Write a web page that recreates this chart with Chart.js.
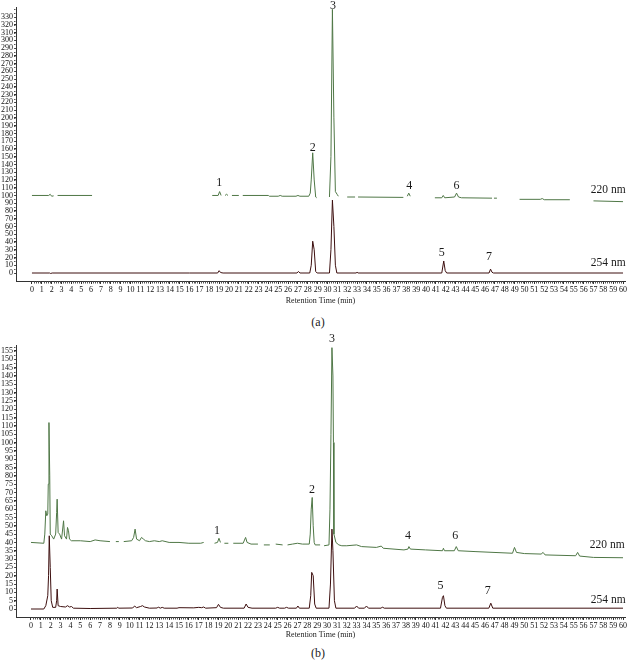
<!DOCTYPE html>
<html><head><meta charset="utf-8">
<script src="https://cdn.jsdelivr.net/npm/chart.js@4"></script>
<style>
html,body{margin:0;padding:0;background:#fff;}
#wrap{position:relative;width:634px;height:661px;overflow:hidden;background:#fff;}
.cap{position:absolute;font-family:"Liberation Serif",serif;font-size:12px;color:#222;transform:translate(-50%,-50%);white-space:nowrap;}
</style></head><body>
<div id="wrap">
<canvas id="ca" width="634" height="310" style="position:absolute;left:0;top:0"></canvas>
<canvas id="cb" width="634" height="314" style="position:absolute;left:0;top:330px"></canvas>
<div class="cap" style="left:318px;top:322px">(a)</div>
<div class="cap" style="left:318px;top:653px">(b)</div>
</div>
<script>
// ---------- DATA ----------
const xTicks = [0,1,2,3,4,5,6,7,8,9,10,11,12,13,14,15,16,17,18,19,20,21,22,23,24,25,26,27,28,29,30,31,32,33,34,35,36,37,38,39,40,41,42,43,44,45,46,47,48,49,50,51,52,53,54,55,56,57,58,59,60];
const yTicksA = [0,10,20,30,40,50,60,70,80,90,100,110,120,130,140,150,160,170,180,190,200,210,220,230,240,250,260,270,280,290,300,310,320,330];
const yTicksB = [0,5,10,15,20,25,30,35,40,45,50,55,60,65,70,75,80,85,90,95,100,105,110,115,120,125,130,135,140,145,150,155];

// Panel (a), 220 nm (offset trace; null = gap in trace)
const tA220 = [0,1.7,1.85,2.0,2.2,2.4,2.6,6.1,6.2,18.3,18.9,19.05,19.2,19.4,19.6,19.75,19.9,20.0,20.3,21.0,21.2,21.4,24.0,24.1,25.0,25.2,25.4,26.8,27.0,27.2,28.1,28.25,28.35,28.5,28.65,28.8,28.9,29.0,30.2,30.35,30.5,30.65,30.8,31.0,31.1,31.2,32.0,32.8,32.9,33.1,37.7,37.8,38.1,38.25,38.4,38.5,40.9,41.6,41.75,41.9,42.9,43.1,43.3,43.6,46.7,46.8,46.9,47.2,47.3,49.5,51.6,51.8,52.0,54.6,54.7,57.0,60.0];
const vA220 = [100,100,101.5,99,99.5,null,100,100,null,100,100,105,100,null,100,101.5,100,null,100,100,null,100,100,99,99,100,99,99,100,99,99,103,120,155,120,98,97,null,98,150,340,200,105,101,99,null,98,98,null,98,97.5,null,99,103,99,null,97,97,100,97,98,103,98,97,96.5,null,96.5,96.5,null,95,95,96,94.5,94.5,null,93,92];

// Panel (a), 254 nm
const tA254 = [0,1.8,1.9,2.05,16.0,18.85,19.0,19.15,19.4,26.9,27.05,27.2,28.2,28.35,28.5,28.65,28.8,28.95,30.2,30.35,30.5,30.65,30.8,30.95,32.9,33.0,33.1,41.6,41.8,41.95,42.1,46.4,46.55,46.7,46.85,60.0];
const vA254 = [0,0,-0.6,0,0,0,3,0.6,0,0,2,0,0,10,41,30,2,0,0,30,94,60,10,0,0,1,0,0,15.5,3,0,0,5,1,0,0];

// Panel (b), 220 nm
const tB220 = [0,1.3,1.4,1.5,1.6,1.7,1.75,1.82,1.9,1.95,2.1,2.3,2.5,2.6,2.65,2.75,2.9,3.1,3.3,3.4,3.6,3.7,3.8,3.9,4.1,5.0,6.0,6.5,7.0,8.0,8.2,8.6,8.9,9.0,9.4,10.2,10.4,10.55,10.7,11.0,11.2,11.4,11.6,12.0,12.5,13.0,13.3,14.0,15.0,16.0,17.2,17.5,17.6,18.6,18.9,19.05,19.2,19.4,19.6,20.0,20.1,20.5,21.5,21.75,21.9,22.3,23.0,23.1,23.6,24.2,24.3,24.8,25.5,25.7,26.0,26.5,27.0,27.5,28.2,28.3,28.4,28.5,28.6,28.7,28.8,29.3,29.4,29.7,30.2,30.3,30.4,30.5,30.6,30.65,30.7,30.9,31.2,31.5,32.0,33.0,33.5,35.0,35.5,35.7,37.8,38.2,38.3,38.45,40.0,41.7,41.8,41.9,42.9,43.1,43.3,45.0,48.8,49.0,49.2,50.0,51.7,51.9,52.1,55.2,55.4,55.6,57.0,60.0];
const vB220 = [40,39.5,45,59,56,57,75,112,80,45,44,42,45,58,66,46,45,42,53,44,42,49,47,42,41,41,40.5,41.5,41,40.5,null,40.5,40.5,null,40.5,41,43,48,42,41,43,42,41,40.5,41,40.5,41,40,40,39.5,39.5,40,null,39.5,40,42.5,40,null,39.5,39.5,null,39.5,39.5,43,40,39,39,null,38.5,38.5,null,39,38.5,null,38.5,39,39.5,39,39,45,60,67,50,40,38.5,38.5,null,38,38.5,60,105,157,140,100,45,40,38.5,38,38,38.5,37.5,37,37.8,36.5,35.5,36,37.5,36,35.5,35,36.5,35,35,37.5,35,34.5,33.5,37,34,33.3,33,34,32.5,32,34,31.8,31,30.8];

// Panel (b), 254 nm
const tB254 = [0,1.3,1.5,1.7,1.78,1.85,1.95,2.05,2.2,2.5,2.6,2.65,2.75,3.0,3.5,3.7,3.9,4.1,4.3,6.0,8.7,8.8,8.9,10.3,10.5,10.7,11.1,11.3,11.5,12.0,12.8,12.9,13.1,13.3,13.5,14.8,15.0,16.5,17.0,17.3,17.5,17.7,18.8,19.0,19.2,19.5,21.6,21.8,22.0,22.4,24.8,25.0,25.2,25.7,25.9,26.1,26.9,27.05,27.2,28.2,28.35,28.45,28.6,28.75,28.9,30.2,30.35,30.5,30.6,30.75,30.9,32.8,33.0,33.2,33.8,34.0,34.2,35.5,35.6,35.8,41.5,41.7,41.8,41.95,42.1,46.4,46.6,46.8,60.0];
const vB254 = [0,0,2,8,20,44,25,5,1,1,5,12,2,1.5,1.2,2,1.2,1.5,0.5,0.3,0.5,1,0.5,0.6,1.8,0.8,1.5,2,1.2,0.5,0.6,1.2,0.5,1,0.5,0.5,0.8,0.7,1,0.8,1.2,0.5,0.8,2.8,1,0.5,0.5,3,1,0.5,0.5,1,0.5,0.5,1,0.5,0.5,1.8,0.5,0.5,8,22,20,3,0.5,0.5,15,48,35,5,0.5,0.5,1.8,0.5,0.5,1.8,0.5,0.5,1.2,0.5,0.5,7,8,2,0.5,0.5,3.5,0.5,0.5];

// Peak annotations
const peakNames = ['1','2','3','4','5','6','7'];
const peakTimesA = [19.0,28.5,30.55,38.3,41.6,43.1,46.4];
const peakValsA  = [116,162,344,113,26,113,21];
const peakTimesB = [18.85,28.47,30.5,38.2,41.5,43.0,46.3];
const peakValsB  = [46.8,71.5,162,43.8,13.8,43.8,10.8];
const traceNames = ['220 nm','254 nm'];
const traceTimesA = [58.5,58.5];
const traceValsA  = [107,13];
const traceTimesB = [58.4,58.5];
const traceValsB  = [38.4,5.4];

// ---------- RENDER ----------
const SERIF = '"Liberation Serif", "DejaVu Serif", serif';
const C220 = '#4f7746';
const C254 = '#3d0f0f';

function pts(t, v){ return t.map((x,i)=>({x:x, y:v[i]})); }

const textPlugin = {
  id: 'textLabels',
  afterDatasetsDraw(chart, args, opts){
    const ctx = chart.ctx, xs = chart.scales.x, ys = chart.scales.y;
    ctx.save();
    ctx.fillStyle = '#1a1a1a';
    ctx.textAlign = 'center';
    ctx.textBaseline = 'middle';
    (opts.items || []).forEach(it=>{
      ctx.font = (it.big ? '12px ' : '11.5px ') + SERIF;
      ctx.fillText(it.text, xs.getPixelForValue(it.x), ys.getPixelForValue(it.y));
    });
    // minor ticks along both axes (positions from the scales)
    ctx.strokeStyle = '#555';
    ctx.lineWidth = 1;
    ctx.beginPath();
    const xb = xs.top + 0.5;
    for (let i = 0; i <= 300; i++) {
      if (i % 5 === 0) continue;
      const px = Math.round(xs.getPixelForValue(i / 5)) + 0.5;
      ctx.moveTo(px, xb); ctx.lineTo(px, xb + 2);
    }
    const yl = ys.right - 0.5;
    const step = opts.yMinor;
    for (let v = 0; v <= ys.max; v += step) {
      const py = Math.round(ys.getPixelForValue(v)) + 0.5;
      ctx.moveTo(yl, py); ctx.lineTo(yl - 1.5, py);
    }
    ctx.stroke();
    ctx.restore();
  }
};

function makeChart(id, d220, d254, xMin, xMax, yMin, yMax, yTicks, padTop, xAxisH, items, yMinor){
  return new Chart(document.getElementById(id), {
    type: 'line',
    data: { datasets: [
      { data: d220, borderColor: C220, borderWidth: 1, pointRadius: 0, tension: 0, spanGaps: false, clip: false },
      { data: d254, borderColor: C254, borderWidth: 1, pointRadius: 0, tension: 0, spanGaps: false, clip: false }
    ]},
    options: {
      responsive: false, animation: false,
      layout: { padding: { top: padTop, right: 9, left: 0, bottom: 0 } },
      plugins: { legend: { display: false }, tooltip: { enabled: false }, textLabels: { items: items, yMinor: yMinor } },
      scales: {
        x: {
          type: 'linear', min: xMin, max: xMax,
          afterBuildTicks: s => { s.ticks = xTicks.map(v=>({value:v})); },
          afterFit: s => { s.height = xAxisH; },
          grid: { drawOnChartArea: false, tickLength: 3, color: '#333', tickColor: '#333' },
          border: { display: true, color: '#333', width: 1 },
          ticks: { autoSkip: false, maxRotation: 0, padding: 1, color: '#111', font: { family: SERIF, size: 8 } },
          title: { display: true, text: 'Retention Time (min)', color: '#1a1a1a', font: { family: SERIF, size: 8 }, padding: { top: 0, bottom: 4 } }
        },
        y: {
          type: 'linear', min: yMin, max: yMax,
          afterBuildTicks: s => { s.ticks = yTicks.map(v=>({value:v})); },
          afterFit: s => { s.width = 16; },
          grid: { drawOnChartArea: false, tickLength: 2, color: '#333', tickColor: '#333' },
          border: { display: true, color: '#333', width: 1 },
          ticks: { autoSkip: false, padding: 1, color: '#111', font: { family: SERIF, size: 8 } }
        }
      }
    },
    plugins: [textPlugin]
  });
}

function itemsFor(pt, pv, tt, tv){
  const out = [];
  peakNames.forEach((n,i)=>out.push({text:n, x:pt[i], y:pv[i], big:true}));
  traceNames.forEach((n,i)=>out.push({text:n, x:tt[i], y:tv[i]}));
  return out;
}

makeChart('ca', pts(tA220, vA220), pts(tA254, vA254), -1.62, 60.2, -10.3, 343, yTicksA, 7, 29,
  itemsFor(peakTimesA, peakValsA, traceTimesA, traceValsA), 5);
makeChart('cb', pts(tB220, vB220), pts(tB254, vB254), -1.52, 60.2, -4.8, 158.6, yTicksB, 15, 27,
  itemsFor(peakTimesB, peakValsB, traceTimesB, traceValsB), 2.5);
</script>
</body></html>
